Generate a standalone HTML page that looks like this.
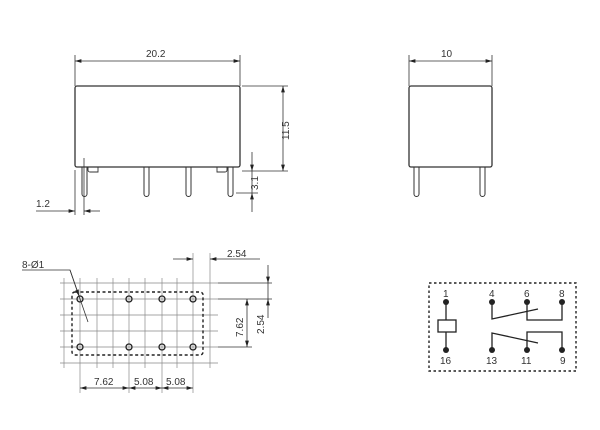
<!DOCTYPE html>
<html><head><style>body{margin:0;background:#fff}svg{display:block}text{font-family:"Liberation Sans",sans-serif;font-size:10px;fill:#333}</style></head><body>
<svg width="600" height="430" viewBox="0 0 600 430" xmlns="http://www.w3.org/2000/svg">
<defs><marker id="a" viewBox="0 0 10 6" refX="10" refY="3" markerWidth="8" markerHeight="5" orient="auto-start-reverse"><path d="M0,0L10,3L0,6z" fill="#222"/></marker></defs>
<g stroke="#333" fill="none" stroke-width="0.8">
<!-- top-left view -->
<line x1="75" y1="55" x2="75" y2="86"/><line x1="240" y1="55" x2="240" y2="86"/>
<line x1="75" y1="61" x2="240" y2="61" marker-start="url(#a)" marker-end="url(#a)"/>
<rect x="75" y="86" width="165" height="81" rx="2" stroke-width="1.3"/>
<path d="M82,167v27a2.5,2.5 0 0 0 5,0v-27M144,167v27a2.5,2.5 0 0 0 5,0v-27M186,167v27a2.5,2.5 0 0 0 5,0v-27M228,167v27a2.5,2.5 0 0 0 5,0v-27" stroke-width="1"/>
<path d="M88,167v3a2,2 0 0 0 2,2h8v-5M227,167v3a2,2 0 0 1 -2,2h-8v-5" stroke-width="0.9"/>
<line x1="242" y1="86" x2="288" y2="86"/><line x1="242" y1="171" x2="288" y2="171"/>
<line x1="283" y1="86" x2="283" y2="171" marker-start="url(#a)" marker-end="url(#a)"/>
<line x1="236" y1="193" x2="258" y2="193"/>
<line x1="252" y1="152" x2="252" y2="171" marker-end="url(#a)"/>
<line x1="252" y1="212" x2="252" y2="193" marker-end="url(#a)"/>
<line x1="252" y1="171" x2="252" y2="193"/>
<line x1="75" y1="170" x2="75" y2="215"/><line x1="84" y1="158" x2="84" y2="215"/>
<line x1="36" y1="211" x2="75" y2="211" marker-end="url(#a)"/>
<line x1="100" y1="211" x2="84" y2="211" marker-end="url(#a)"/>
<!-- right view -->
<line x1="409" y1="55" x2="409" y2="86"/><line x1="492" y1="55" x2="492" y2="86"/>
<line x1="409" y1="61" x2="492" y2="61" marker-start="url(#a)" marker-end="url(#a)"/>
<rect x="409" y="86" width="83" height="81" rx="2" stroke-width="1.3"/>
<path d="M414,167v27a2.5,2.5 0 0 0 5,0v-27M480,167v27a2.5,2.5 0 0 0 5,0v-27" stroke-width="1"/>
<!-- grid -->
<g stroke="#888" stroke-width="0.7">
<line x1="60" y1="283" x2="218" y2="283"/><line x1="60" y1="299" x2="218" y2="299"/><line x1="60" y1="315" x2="218" y2="315"/><line x1="60" y1="331" x2="218" y2="331"/><line x1="60" y1="347" x2="218" y2="347"/><line x1="60" y1="363" x2="218" y2="363"/>
<line x1="64" y1="278" x2="64" y2="368"/><line x1="80" y1="278" x2="80" y2="393"/><line x1="97" y1="278" x2="97" y2="368"/><line x1="113" y1="278" x2="113" y2="368"/><line x1="129" y1="278" x2="129" y2="393"/><line x1="145" y1="278" x2="145" y2="368"/><line x1="162" y1="278" x2="162" y2="393"/><line x1="177" y1="278" x2="177" y2="368"/><line x1="193" y1="253" x2="193" y2="393"/><line x1="210" y1="253" x2="210" y2="368"/>
</g>
<rect x="72" y="292" width="131" height="63" rx="3" stroke="#222" stroke-width="1.4" stroke-dasharray="3,2.5"/>
<g stroke="#222" stroke-width="1.3"><circle cx="80" cy="299" r="3"/><circle cx="129" cy="299" r="3"/><circle cx="162" cy="299" r="3"/><circle cx="193" cy="299" r="3"/><circle cx="80" cy="347" r="3"/><circle cx="129" cy="347" r="3"/><circle cx="162" cy="347" r="3"/><circle cx="193" cy="347" r="3"/></g>
<line x1="173" y1="259" x2="193" y2="259" marker-end="url(#a)"/>
<line x1="260" y1="259" x2="210" y2="259" marker-end="url(#a)"/>
<line x1="218" y1="283" x2="272" y2="283"/><line x1="218" y1="299" x2="272" y2="299"/><line x1="218" y1="347" x2="252" y2="347"/>
<line x1="247" y1="299" x2="247" y2="347" marker-start="url(#a)" marker-end="url(#a)"/>
<line x1="268" y1="265" x2="268" y2="283" marker-end="url(#a)"/>
<line x1="268" y1="318" x2="268" y2="299" marker-end="url(#a)"/>
<line x1="268" y1="283" x2="268" y2="299"/>
<line x1="80" y1="388" x2="129" y2="388" marker-start="url(#a)" marker-end="url(#a)"/>
<line x1="129" y1="388" x2="162" y2="388" marker-start="url(#a)" marker-end="url(#a)"/>
<line x1="162" y1="388" x2="193" y2="388" marker-start="url(#a)" marker-end="url(#a)"/>
<polyline points="22,270 70,270 88,322"/>
<line x1="70" y1="270" x2="79" y2="296" marker-end="url(#a)"/>
<!-- schematic -->
<rect x="429" y="283" width="147" height="88" stroke="#222" stroke-width="1.4" stroke-dasharray="2.5,2.5"/>
<g stroke="#222" stroke-width="1.3">
<line x1="446" y1="302" x2="446" y2="320"/><line x1="446" y1="332" x2="446" y2="350"/>
<rect x="438" y="320" width="18" height="12" fill="#fff"/>
<polyline points="492,302 492,319 538,309"/>
<polyline points="527,302 527,320 562,320 562,302"/>
<polyline points="492,350 492,333 538,343"/>
<polyline points="527,350 527,332 562,332 562,350"/>
</g>
</g>
<g fill="#222"><circle cx="446" cy="302" r="3"/><circle cx="492" cy="302" r="3"/><circle cx="527" cy="302" r="3"/><circle cx="562" cy="302" r="3"/><circle cx="446" cy="350" r="3"/><circle cx="492" cy="350" r="3"/><circle cx="527" cy="350" r="3"/><circle cx="562" cy="350" r="3"/></g>
<text x="146" y="57">20.2</text>
<text x="441" y="57">10</text>
<text x="36" y="207">1.2</text>
<text transform="translate(289,140) rotate(-90)">11.5</text>
<text transform="translate(258,190) rotate(-90)">3.1</text>
<text x="22" y="268">8-Ø1</text>
<text x="227" y="257">2.54</text>
<text transform="translate(243,337) rotate(-90)">7.62</text>
<text transform="translate(264,334) rotate(-90)">2.54</text>
<text x="94" y="385">7.62</text>
<text x="134" y="385">5.08</text>
<text x="166" y="385">5.08</text>
<text x="443" y="297">1</text><text x="489" y="297">4</text><text x="524" y="297">6</text><text x="559" y="297">8</text>
<text x="440" y="364">16</text><text x="486" y="364">13</text><text x="521" y="364">11</text><text x="560" y="364">9</text>
</svg>
</body></html>
